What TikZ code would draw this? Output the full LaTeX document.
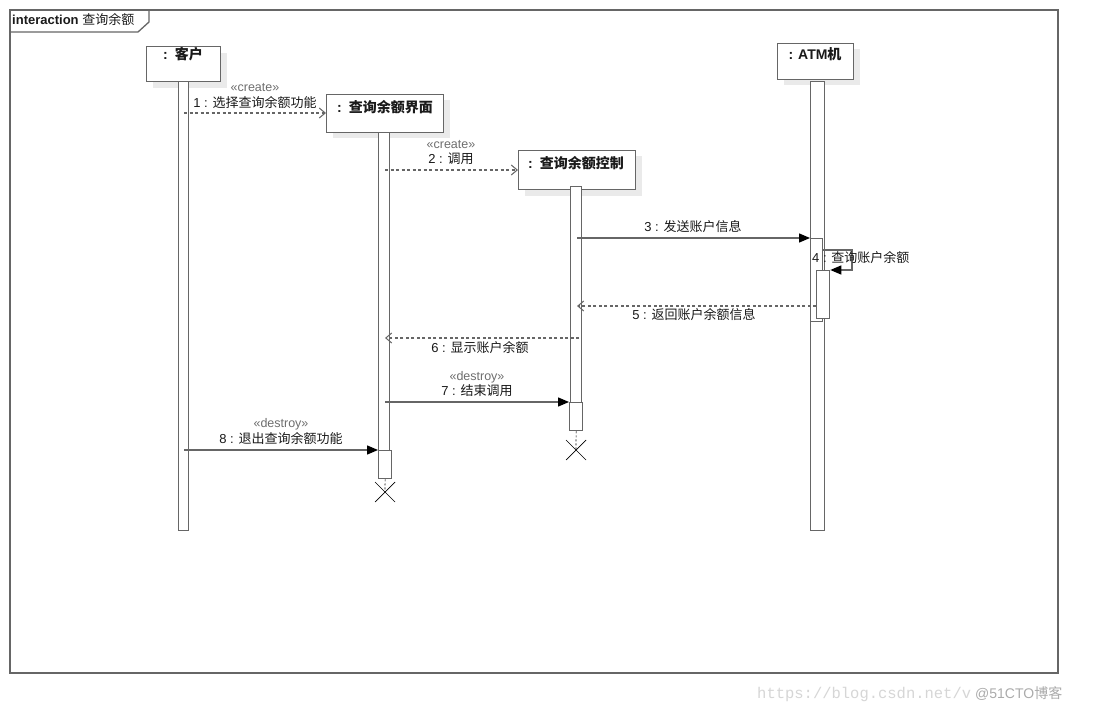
\documentclass[tikz,border=0pt]{standalone}
\usepackage{fontspec}
\setmainfont{Liberation Sans}
\newfontfamily\cjk{Noto Sans CJK SC}
\newfontfamily\wmono{Liberation Mono}
\usetikzlibrary{arrows.meta,calc}
\definecolor{ln}{HTML}{666666}
\definecolor{shd}{HTML}{EAEAEA}
\definecolor{txt}{HTML}{1A1A1A}
\definecolor{stc}{HTML}{6E6E6E}
\definecolor{wm}{HTML}{D6D6D6}
\newcommand{\zh}[1]{{\cjk #1}}
\begin{document}
\begin{tikzpicture}[x=1pt,y=-1pt,
  lbl/.style={inner sep=0pt, text=txt, font=\fontsize{13}{15}\selectfont},
  ster/.style={inner sep=0pt, text=stc, font=\fontsize{12.5}{14}\selectfont},
  headbox/.style={draw=ln, fill=white, line width=1.3pt, anchor=north west, inner sep=0pt},
  headtxt/.style={inner sep=0pt, text=txt, font=\bfseries\fontsize{14}{16}\selectfont},
  actbar/.style={draw=ln, fill=white, line width=1.3pt, anchor=north west, inner sep=0pt},
  shadow/.style={fill=shd, draw=none},
  sync/.style={draw=ln, line width=1.3pt, -{Triangle[length=11pt,width=9pt,color=black]}},
  create/.style={draw=ln, line width=1.3pt, dash pattern=on 3pt off 2.5pt, -{Straight Barb[length=6pt,width=10pt,line width=1pt]}},
  xmark/.style={draw=black, line width=0.7pt},
  lifedash/.style={draw=black, line width=0.7pt, dash pattern=on 2pt off 2pt}]
\useasboundingbox (0,0) rectangle (1098,714);
\fill[white] (0,0) rectangle (1098,714);

% frame
\draw[ln, line width=1.3pt] (10,10) rectangle (1058,673);
\draw[ln, line width=1.3pt] (10,32) -- (138,32) -- (149,22) -- (149,10);
\node[inner sep=0pt, anchor=west, text=txt, font=\fontsize{13}{15}\selectfont] (ftitle) at (12,20) {\textbf{interaction} \zh{查询余额}};

% heads with shadows
\fill[shadow] (153,53) rectangle (227,88);
\node[headbox, minimum width=74pt, minimum height=35pt] (h1) at (146,46) {};
\node[headtxt] (h1t) at (183,54) {:\hspace{7pt}\zh{\bfseries 客户}};

\fill[shadow] (333,100) rectangle (450,138);
\node[headbox, minimum width=117pt, minimum height=38pt] (h2) at (326,94) {};
\node[headtxt] (h2t) at (385,107) {:\hspace{7pt}\zh{\bfseries 查询余额界面}};

\fill[shadow] (525,156) rectangle (642,196);
\node[headbox, minimum width=117pt, minimum height=39pt] (h3) at (518,150) {};
\node[headtxt] (h3t) at (576,163) {:\hspace{7pt}\zh{\bfseries 查询余额控制}};

\fill[shadow] (784,49) rectangle (860,85);
\node[headbox, minimum width=76pt, minimum height=36pt] (h4) at (777,43) {};
\node[headtxt] (h4t) at (815,54) {:\hspace{5pt}ATM\zh{\bfseries 机}};

% activation bars
\node[actbar, minimum width=10pt, minimum height=449pt] (a1) at (178,81) {};
\node[actbar, minimum width=11pt, minimum height=318pt] (a2) at (378,132) {};
\node[actbar, minimum width=13pt, minimum height=28pt] (a2d) at (378,450) {};
\node[actbar, minimum width=11pt, minimum height=216pt] (a3) at (570,186) {};
\node[actbar, minimum width=13pt, minimum height=28pt] (a3d) at (569,402) {};
\node[actbar, minimum width=14pt, minimum height=449pt] (a4) at (810,81) {};
\node[actbar, minimum width=12pt, minimum height=83pt] (a4b) at (810,238) {};
\node[actbar, minimum width=13pt, minimum height=48pt] (a4c) at (816,270) {};

% destruction
\coordinate (x2) at (385,492);
\coordinate (x3) at (576,450);
\draw[lifedash] (a2d.south) -- (x2);
\draw[lifedash] (a3d.south) -- (x3);
\draw[xmark] ($(x2)+(-10,-10)$) -- ($(x2)+(10,10)$);
\draw[xmark] ($(x2)+(-10,10)$) -- ($(x2)+(10,-10)$);
\draw[xmark] ($(x3)+(-10,-10)$) -- ($(x3)+(10,10)$);
\draw[xmark] ($(x3)+(-10,10)$) -- ($(x3)+(10,-10)$);

% messages
\coordinate (m1s) at (184,113);
\draw[create] (m1s) -- (h2.west |- m1s);
\node[ster] (s1) at (255,88) {«create»};
\node[lbl] (l1) at (255,103) {1 : \zh{选择查询余额功能}};

\coordinate (m2s) at (385,170);
\draw[create] (m2s) -- (h3.west |- m2s);
\node[ster] (s2) at (451,145) {«create»};
\node[lbl] (l2) at (451,159) {2 : \zh{调用}};

\coordinate (m3s) at (577,238);
\draw[sync] (m3s) -- (a4b.west |- m3s);
\node[lbl] (l3) at (693,227) {3 : \zh{发送账户信息}};

\coordinate (m4a) at (822,250);
\coordinate (m4b) at (852,250);
\coordinate (m4c) at (852,270);
\draw[sync] (m4a) -- (m4b) -- (m4c) -- (a4c.east |- m4c);
\node[lbl, anchor=west] (l4) at (812,258) {4 : \zh{查询账户余额}};

\coordinate (m5s) at (816,306);
\draw[create] (m5s) -- (577,306) coordinate (m5e);
\node[lbl] (l5) at (694,315) {5 : \zh{返回账户余额信息}};

\coordinate (m6s) at (579,338);
\draw[create] (m6s) -- (385,338) coordinate (m6e);
\node[lbl] (l6) at (480,348) {6 : \zh{显示账户余额}};

\coordinate (m7s) at (385,402);
\draw[sync] (m7s) -- (a3d.west |- m7s);
\node[ster] (s7) at (477,377) {«destroy»};
\node[lbl] (l7) at (477,391) {7 : \zh{结束调用}};

\coordinate (m8s) at (184,450);
\draw[sync] (m8s) -- (a2d.west |- m8s);
\node[ster] (s8) at (281,424) {«destroy»};
\node[lbl] (l8) at (281,439) {8 : \zh{退出查询余额功能}};

% watermark
\node[inner sep=0pt, anchor=west, text=wm, font=\wmono\fontsize{15.5}{17}\selectfont] (wm1) at (757,694) {https://blog.csdn.net/v};
\node[inner sep=0pt, anchor=west, text=wm!80!black, font=\fontsize{14}{16}\selectfont] (wm2) at (975,694) {@51CTO\zh{博客}};
\end{tikzpicture}
\end{document}
